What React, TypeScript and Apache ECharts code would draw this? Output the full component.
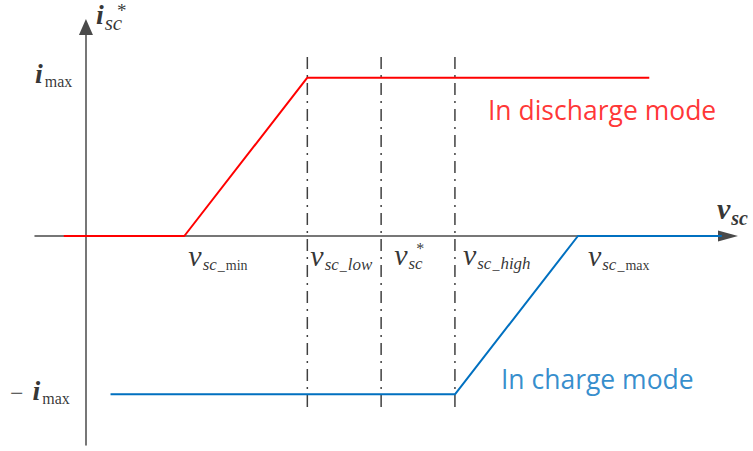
import React, { useEffect, useRef } from "react";
import * as echarts from "echarts";

// ---- data (conceptual units) ----
const imax = 1;
const xTickKeys = ["min", "low", "star", "high", "max"];
const xTickValues = [4, 9, 12, 15, 20]; // v_sc_min, v_sc_low, v*_sc, v_sc_high, v_sc_max
const guideTicks = [9, 12, 15]; // dash-dot guides at v_sc_low, v*_sc, v_sc_high
const dischargeX = [-0.9, 4, 9, 22.9];
const dischargeY = [0, 0, imax, imax];
const chargeX = [1, 15, 20, 25.85];
const chargeY = [-imax, -imax, 0, 0];
const guideTop = 1.13;
const guideBottom = -1.1;
const xRange = [-2.07, 26.1];
const yRange = [-1.32, 1.32];

const serif = "'Liberation Serif', 'Times New Roman', serif";
const sans = "'Open Sans', 'Noto Sans', sans-serif";

const tickText: Record<string, string> = {
  min: "{v|v}{s|sc}{u|_}{r|min}",
  low: "{v|v}{s|sc}{u|_}{s|low}",
  star: "{v|v}{s|sc}",
  high: "{v|v}{s|sc}{u|_}{s|high}",
  max: "{v|v}{s|sc}{u|_}{r|max}",
};
const tickOffset: Record<string, number[]> = {
  min: [4, 4],
  low: [3, 4],
  star: [13, 3],
  high: [8, 3],
  max: [10, 4],
};

export default function App() {
  const ref = useRef<HTMLDivElement>(null);
  useEffect(() => {
    if (!ref.current) return;
    const chart = echarts.init(ref.current, null, { renderer: "svg" });

    const guides = guideTicks.map((x, i) => ({
      type: "line",
      name: "guide" + i,
      data: [
        [x, guideTop],
        [x, guideBottom],
      ],
      symbol: "none",
      silent: true,
      z: 1,
      lineStyle: { color: "#404040", width: 1.5, type: [12, 6, 2, 6] },
    }));

    const annotations: any[] = [];
    xTickValues.forEach((x, i) => {
      const k = xTickKeys[i];
      annotations.push({ value: [x, 0], txt: tickText[k], label: { position: tickOffset[k] } });
    });
    // star of v*_sc
    annotations.push({ value: [xTickValues[2], 0], txt: "{st|*}", label: { position: [35, 4] } });
    // axis names
    annotations.push({ value: [xRange[1], 0], txt: "{vb|v}{sb|sc}", label: { position: [-11, -43] } });
    annotations.push({ value: [0, yRange[1]], txt: "{i|i}{is|sc}", label: { position: [10, -27] } });
    annotations.push({ value: [0, yRange[1]], txt: "{ist|*}", label: { position: [31, -26] } });
    // y marks
    annotations.push({ value: [0, imax], txt: "{i|i}{im|max}", label: { position: [-51, -18] } });
    annotations.push({ value: [0, -imax], txt: "{mi|\u2212}{i|i}{im|max}", label: { position: [-76, -18] } });
    // mode notes
    annotations.push({
      value: [xTickValues[3], imax],
      txt: "{red|In discharge mode}",
      label: { position: [33, 19] },
    });
    annotations.push({
      value: [xTickValues[3], -imax],
      txt: "{blue|In charge mode}",
      label: { position: [46, -29] },
    });

    const top = { verticalAlign: "top" };
    const rich: any = {
      v: { ...top, fontFamily: serif, fontStyle: "italic", fontSize: 30, lineHeight: 30, padding: [0, 1, 0, 0], color: "#000" },
      s: { ...top, fontFamily: serif, fontStyle: "italic", fontSize: 17, lineHeight: 17, padding: [16, 0, 0, 0], color: "#000" },
      u: { ...top, fontFamily: serif, fontSize: 14, lineHeight: 14, padding: [18, 1, 0, 1], color: "#000" },
      r: { ...top, fontFamily: serif, fontSize: 14, lineHeight: 14, padding: [18, 0, 0, 0], color: "#000" },
      st: { ...top, fontFamily: serif, fontSize: 16, lineHeight: 16, color: "#000" },
      vb: { ...top, fontFamily: serif, fontStyle: "italic", fontWeight: "bold", fontSize: 30, lineHeight: 30, padding: [0, 1, 0, 0], color: "#000" },
      sb: { ...top, fontFamily: serif, fontStyle: "italic", fontWeight: "bold", fontSize: 20, lineHeight: 20, padding: [15, 0, 0, 0], color: "#000" },
      i: { ...top, fontFamily: serif, fontStyle: "italic", fontWeight: "bold", fontSize: 28, lineHeight: 28, color: "#000" },
      is: { ...top, fontFamily: serif, fontStyle: "italic", fontSize: 21, lineHeight: 21, padding: [12, 0, 0, 1], color: "#000" },
      ist: { ...top, fontFamily: serif, fontSize: 19, lineHeight: 19, color: "#000" },
      im: { ...top, fontFamily: serif, fontSize: 16, lineHeight: 16, padding: [14, 0, 0, 2], color: "#000" },
      mi: { ...top, fontFamily: serif, fontSize: 24, lineHeight: 24, padding: [5, 9, 0, 0], color: "#000" },
      red: { ...top, fontFamily: sans, fontSize: 26.5, lineHeight: 26, color: "#ff0000" },
      blue: { ...top, fontFamily: sans, fontSize: 26.5, lineHeight: 26, color: "#0070c0" },
    };

    const axisLine = (size: number[]) => ({
      show: true,
      onZero: true,
      symbol: ["none", "triangle"],
      symbolSize: size,
      lineStyle: { color: "#4a4a4a", width: 1.5 },
    });

    chart.setOption({
      animation: false,
      backgroundColor: "#ffffff",
      grid: { left: 35, right: 25, top: 27, bottom: 6 },
      xAxis: {
        type: "value",
        min: xRange[0],
        max: xRange[1],
        axisLine: axisLine([11, 20]),
        axisTick: { show: false },
        axisLabel: { show: false },
        splitLine: { show: false },
      },
      yAxis: {
        type: "value",
        min: yRange[0],
        max: yRange[1],
        axisLine: axisLine([14, 16]),
        axisTick: { show: false },
        axisLabel: { show: false },
        splitLine: { show: false },
      },
      series: [
        ...guides,
        {
          type: "line",
          name: "discharge",
          data: dischargeX.map((x, i) => [x, dischargeY[i]]),
          symbol: "none",
          z: 3,
          lineStyle: { color: "#ff0000", width: 2 },
        },
        {
          type: "line",
          name: "charge",
          data: chargeX.map((x, i) => [x, chargeY[i]]),
          symbol: "none",
          z: 3,
          lineStyle: { color: "#0070c0", width: 2 },
        },
        {
          type: "scatter",
          name: "notes",
          symbolSize: 0,
          silent: true,
          z: 5,
          itemStyle: { color: "transparent" },
          data: annotations,
          label: {
            show: true,
            formatter: (p: any) => p.data.txt,
            rich,
          },
        },
      ],
    });
    return () => chart.dispose();
  }, []);
  return (
    <div
      ref={ref}
      style={{ position: "fixed", left: 0, top: 0, width: 753, height: 451, background: "#fff" }}
    />
  );
}
